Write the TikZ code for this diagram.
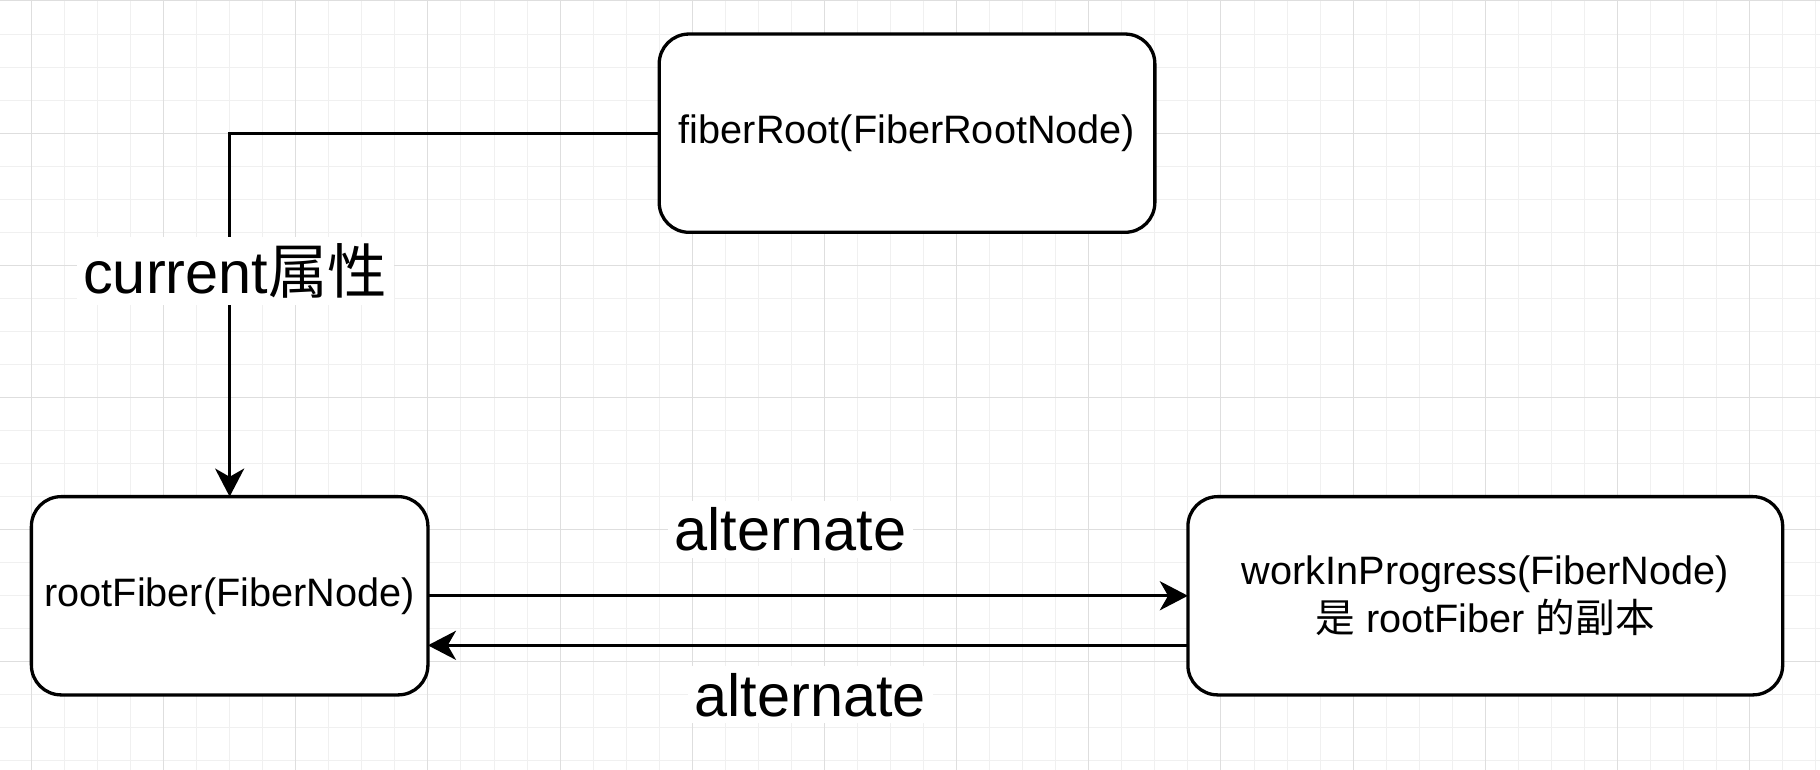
\documentclass[tikz,border=0pt]{standalone}
\usepackage{fontspec}
\setmainfont{Liberation Sans}
\newfontfamily\cjk{Noto Sans CJK SC}
\usepackage{tikz}
\usetikzlibrary{arrows.meta, positioning}

\begin{document}
\begin{tikzpicture}[
    x=1pt, y=-1pt,
    fibernode/.style={rectangle, rounded corners=9pt, draw=black, fill=white, line width=1pt, minimum width=120pt, minimum height=60pt, outer sep=0pt, align=center, font=\fontsize{12}{14.8}\selectfont},
    arrow/.style={-{Stealth[length=8.5pt, width=8.8pt, inset=2.5pt]}, line width=0.9pt},
    edgelabel/.style={fill=white, inner sep=2pt, font=\fontsize{18}{21}\selectfont},
    gridminor/.style={draw=black!6, line width=0.3pt},
    gridmajor/.style={draw=black!13, line width=0.3pt}
]

\useasboundingbox[fill=white] (-9.5,-0.3) rectangle (541.3,232.7);

% Grid
\foreach \gx in {-10,0,...,540} \draw[gridminor] (\gx,-1) -- (\gx,234);
\foreach \gy in {0,10,...,230} \draw[gridminor] (-10,\gy) -- (542,\gy);
\foreach \gx in {0,40,...,520} \draw[gridmajor] (\gx,-1) -- (\gx,234);
\foreach \gy in {0,40,...,200} \draw[gridmajor] (-10,\gy) -- (542,\gy);

% Nodes
\node[fibernode] (rootFiber) at (60,180) {rootFiber(FiberNode)};
\node[fibernode, minimum width=150pt] (fiberRoot) at (265,40) {fiberRoot(FiberRootNode)};
\node[fibernode, minimum width=180pt, right=230pt of rootFiber] (workInProgress) {workInProgress(FiberNode)\\{\cjk 是} rootFiber {\cjk 的副本}};

% Arrows
\draw[arrow] (fiberRoot.west) -| node[edgelabel, pos=0.69, xshift=1.7pt] {current{\cjk 属性}} (rootFiber.north);
\draw[arrow] (rootFiber.east) -- node[edgelabel, pos=0.477, yshift=20pt] {alternate} (workInProgress.west);
\draw[arrow] ([yshift=-15pt]workInProgress.west) -- node[edgelabel, pos=0.497, yshift=-15pt] {alternate} ([yshift=-15pt]rootFiber.east);

\end{tikzpicture}
\end{document}
